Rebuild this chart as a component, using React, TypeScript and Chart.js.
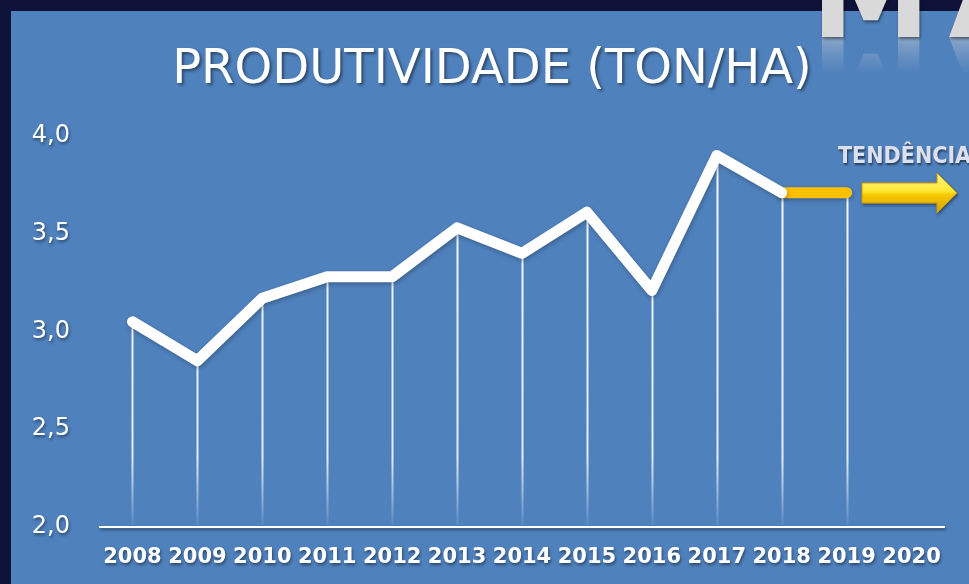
import React, { useEffect, useRef } from "react";
import { Chart, registerables } from "chart.js";

Chart.register(...registerables);

const years = ["2008", "2009", "2010", "2011", "2012", "2013", "2014", "2015", "2016", "2017", "2018", "2019", "2020"];
const productivity = [3.05, 2.85, 3.17, 3.28, 3.28, 3.53, 3.4, 3.61, 3.21, 3.9, 3.71, null, null];
const trend = [null, null, null, null, null, null, null, null, null, null, 3.71, 3.71, null];
const yMin = 2.0;
const yMax = 4.0;
const yStep = 0.5;

const titleText = "PRODUTIVIDADE (TON/HA)";
const trendLabel = "TENDÊNCIA";
const cornerText = "MA";

const shadowPlugin = {
  id: "shadowPlugin",
  beforeDraw(chart: any) {
    const ctx = chart.ctx;
    ctx.save();
    ctx.shadowColor = "rgba(0,0,0,0.45)";
    ctx.shadowBlur = 3;
    ctx.shadowOffsetX = 1;
    ctx.shadowOffsetY = 2;
  },
  beforeDatasetsDraw(chart: any) {
    const ctx = chart.ctx;
    ctx.restore();
    const { chartArea, scales } = chart;
    const xs = scales.x;
    const ys = scales.y;
    for (let i = 0; i < years.length; i++) {
      const v = productivity[i] ?? trend[i];
      if (v == null) continue;
      const x = Math.round(xs.getPixelForValue(i)) + 0.5;
      const y = ys.getPixelForValue(v);
      const g = ctx.createLinearGradient(0, chartArea.top, 0, chartArea.bottom);
      g.addColorStop(0, "rgba(255,255,255,0.95)");
      g.addColorStop(0.82, "rgba(255,255,255,0.85)");
      g.addColorStop(1, "rgba(255,255,255,0.05)");
      ctx.save();
      ctx.strokeStyle = g;
      ctx.lineWidth = 2;
      ctx.beginPath();
      ctx.moveTo(x, y);
      ctx.lineTo(x, chartArea.bottom - 2);
      ctx.stroke();
      ctx.restore();
    }
    ctx.save();
    ctx.shadowColor = "rgba(0,0,0,0.25)";
    ctx.shadowBlur = 4;
    ctx.shadowOffsetX = 1;
    ctx.shadowOffsetY = 2;
  },
  afterDatasetsDraw(chart: any) {
    chart.ctx.restore();
  },
};

function fmt(v: number) {
  return v.toFixed(1).replace(".", ",");
}

export default function App() {
  const canvasRef = useRef<HTMLCanvasElement | null>(null);

  useEffect(() => {
    if (!canvasRef.current) return;
    const chart = new Chart(canvasRef.current, {
      type: "line",
      data: {
        labels: years,
        datasets: [
          {
            label: "Tendência",
            data: trend,
            borderColor: "#ffc000",
            borderWidth: 11,
            borderCapStyle: "round",
            borderJoinStyle: "round",
            pointRadius: 0,
            spanGaps: false,
            order: 2,
          },
          {
            label: "Produtividade",
            data: productivity,
            borderColor: "#ffffff",
            borderWidth: 11,
            borderCapStyle: "round",
            borderJoinStyle: "round",
            pointRadius: 0,
            tension: 0,
            order: 1,
          },
        ],
      },
      options: {
        animation: false,
        responsive: true,
        maintainAspectRatio: false,
        layout: { padding: { top: 125, right: 25, bottom: 0, left: 0 } },
        plugins: {
          legend: { display: false },
          tooltip: { enabled: false },
          title: { display: false },
        },
        scales: {
          x: {
            offset: true,
            grid: { display: false, drawTicks: false },
            border: { display: true, color: "#ffffff", width: 2 },
            ticks: {
              color: "#ffffff",
              padding: 18,
              maxRotation: 0,
              autoSkip: false,
              font: { family: "DejaVu Sans", size: 21, weight: "bold" },
            },
            afterFit(scale: any) {
              scale.height = 57;
            },
          },
          y: {
            min: yMin,
            max: yMax,
            grid: { display: false, drawTicks: false },
            border: { display: false },
            ticks: {
              stepSize: yStep,
              color: "#ffffff",
              padding: 30,
              font: { family: "DejaVu Sans", size: 24 },
              callback: (v: any) => fmt(Number(v)),
            },
            afterFit(scale: any) {
              scale.width = 89;
            },
          },
        },
      },
      plugins: [shadowPlugin],
    });
    return () => chart.destroy();
  }, []);

  const cornerStyle: React.CSSProperties = {
    position: "absolute",
    left: 811,
    fontFamily: "DejaVu Sans",
    fontWeight: "bold",
    fontSize: 120,
    lineHeight: "120px",
    height: 120,
    color: "#d9d9d9",
    letterSpacing: 18,
    whiteSpace: "nowrap",
  };

  return (
    <div
      style={{
        position: "fixed",
        left: 0,
        top: 0,
        width: 969,
        height: 584,
        background: "#0e1238",
        overflow: "hidden",
      }}
    >
      <div
        style={{
          position: "absolute",
          left: 11,
          top: 11,
          width: 958,
          height: 573,
          background: "#4f81bd",
        }}
      >
        <canvas ref={canvasRef} />
      </div>
      {/* corner text with reflection */}
      <div
        style={{
          ...cornerStyle,
          top: 18,
          transform: "scaleY(-1)",
          opacity: 0.45,
          WebkitMaskImage:
            "linear-gradient(to top, rgba(0,0,0,1) 0%, rgba(0,0,0,1) 15%, rgba(0,0,0,0.45) 30%, rgba(0,0,0,0) 47%)",
          maskImage:
            "linear-gradient(to top, rgba(0,0,0,1) 0%, rgba(0,0,0,1) 15%, rgba(0,0,0,0.45) 30%, rgba(0,0,0,0) 47%)",
        }}
      >
        {cornerText}
      </div>
      <div
        style={{
          ...cornerStyle,
          top: -64,
          textShadow: "1px 2px 3px rgba(0,0,0,0.45)",
        }}
      >
        {cornerText}
      </div>
      {/* chart title */}
      <div
        style={{
          position: "absolute",
          left: 0,
          width: 984,
          top: 42,
          textAlign: "center",
          fontFamily: "DejaVu Sans",
          fontSize: 48,
          lineHeight: "48px",
          color: "#ffffff",
          whiteSpace: "nowrap",
          textShadow: "2px 2px 3px rgba(0,0,0,0.45)",
        }}
      >
        {titleText}
      </div>
      {/* trend label */}
      <div
        style={{
          position: "absolute",
          left: 838,
          top: 144,
          fontFamily: "DejaVu Sans Condensed, DejaVu Sans",
          fontWeight: "bold",
          fontSize: 23,
          lineHeight: "23px",
          color: "#dde0ee",
          whiteSpace: "nowrap",
          textShadow: "1px 2px 2px rgba(0,0,0,0.5)",
        }}
      >
        {trendLabel}
      </div>
      {/* trend arrow */}
      <svg
        style={{ position: "absolute", left: 855, top: 168, overflow: "visible" }}
        width={110}
        height={52}
      >
        <defs>
          <linearGradient id="arrowGrad" x1="0" y1="0" x2="0" y2="1">
            <stop offset="0" stopColor="#fff48a" />
            <stop offset="0.45" stopColor="#ffe833" />
            <stop offset="0.55" stopColor="#f5c800" />
            <stop offset="1" stopColor="#d9a000" />
          </linearGradient>
          <filter id="arrowShadow" x="-20%" y="-20%" width="140%" height="160%">
            <feDropShadow dx="1" dy="2" stdDeviation="1.5" floodColor="#000" floodOpacity="0.4" />
          </filter>
        </defs>
        <path
          d="M7 15 L82 15 L82 5 L102 25 L82 45 L82 35 L7 35 Z"
          fill="url(#arrowGrad)"
          stroke="#c99600"
          strokeWidth={1}
          filter="url(#arrowShadow)"
        />
      </svg>
    </div>
  );
}
